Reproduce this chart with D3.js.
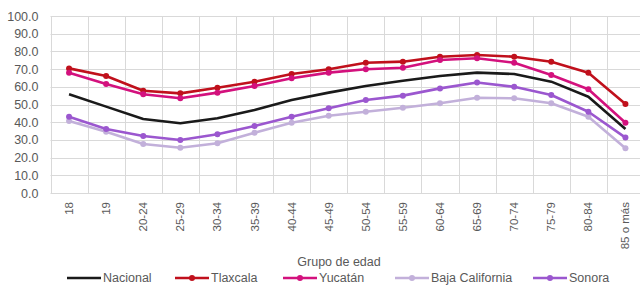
<!DOCTYPE html>
<html>
<head>
<meta charset="utf-8">
<script src="https://cdn.jsdelivr.net/npm/d3@7"></script>
<style>
  body { margin: 0; background: #fff; }
  text { font-family: "Liberation Sans", Arial, sans-serif; fill: #595959; }
</style>
</head>
<body>
<div id="chart"></div>
<script>
// Data
const categories = ['18', '19', '20-24', '25-29', '30-34', '35-39', '40-44', '45-49',
  '50-54', '55-59', '60-64', '65-69', '70-74', '75-79', '80-84', '85 o más'];
const nacional = [55.8, 48.8, 41.8, 39.4, 42.2, 46.9, 52.5, 56.7, 60.5, 63.4, 66.1, 68.0, 67.2, 62.9, 54.4, 36.2];
const tlaxcala = [70.4, 66.1, 57.8, 56.3, 59.5, 62.9, 67.2, 69.9, 73.6, 74.2, 77.0, 78.0, 77.0, 74.2, 68.0, 50.3];
const yucatan = [68.0, 61.6, 55.8, 53.5, 56.7, 60.5, 64.8, 68.0, 69.9, 70.8, 75.1, 76.1, 73.6, 66.7, 58.6, 39.7];
const bajaCalifornia = [40.7, 34.6, 27.7, 25.6, 28.1, 34.1, 39.7, 43.6, 45.9, 48.2, 50.7, 53.8, 53.5, 50.7, 43.1, 25.3];
const sonora = [43.1, 36.2, 32.2, 29.9, 33.2, 37.9, 43.1, 47.9, 52.5, 55.0, 59.1, 62.4, 60.0, 55.4, 45.9, 31.3];
const yTicks = [0, 10, 20, 30, 40, 50, 60, 70, 80, 90, 100];

const series = [
  { name: 'Nacional', values: nacional, color: '#1a1a1a', marker: false },
  { name: 'Tlaxcala', values: tlaxcala, color: '#c0101c', marker: true },
  { name: 'Yucatán', values: yucatan, color: '#d3117d', marker: true },
  { name: 'Baja California', values: bajaCalifornia, color: '#c2b0da', marker: true },
  { name: 'Sonora', values: sonora, color: '#9b57cf', marker: true }
];

// Layout
const width = 640;
const height = 285;
const plotLeft = 50.5, plotRight = 644, plotTop = 16, plotBottom = 193;

const svg = d3.select('#chart')
  .append('svg')
  .attr('width', width)
  .attr('height', height);

const x = d3.scaleBand().domain(categories).range([plotLeft, plotRight]);
const y = d3.scaleLinear().domain([0, 100]).range([plotBottom, plotTop]);
const cx = d => x(d) + x.bandwidth() / 2;

// Grid
const grid = svg.append('g').attr('stroke', '#d9d9d9').attr('stroke-width', 1);
grid.append('g')
  .selectAll('line')
  .data(yTicks)
  .join('line')
  .attr('x1', plotLeft).attr('x2', plotRight)
  .attr('y1', d => Math.round(y(d)) + 0.5).attr('y2', d => Math.round(y(d)) + 0.5);
grid.append('g')
  .selectAll('line')
  .data(categories.concat(['end']))
  .join('line')
  .attr('x1', (d, i) => Math.round(plotLeft + i * x.bandwidth()) + 0.5)
  .attr('x2', (d, i) => Math.round(plotLeft + i * x.bandwidth()) + 0.5)
  .attr('y1', plotTop).attr('y2', plotBottom);

// Y axis
const yAxis = svg.append('g')
  .attr('transform', `translate(${plotLeft},0)`)
  .call(d3.axisLeft(y).tickValues(yTicks).tickFormat(d3.format('.1f')).tickSize(0).tickPadding(12));
yAxis.select('.domain').remove();
yAxis.selectAll('text')
  .style('font-size', '12.5px')
  .attr('fill', '#595959');

// X axis
const xAxis = svg.append('g')
  .attr('transform', `translate(0,${plotBottom})`)
  .call(d3.axisBottom(x).tickSize(0));
xAxis.select('.domain').remove();
xAxis.selectAll('text')
  .style('font-size', '11.5px')
  .attr('fill', '#595959')
  .attr('text-anchor', 'end')
  .attr('transform', 'rotate(-90)')
  .attr('x', -9)
  .attr('y', 0)
  .attr('dy', '0.35em');

// Axis title
svg.append('text')
  .attr('x', 339)
  .attr('y', 266)
  .attr('text-anchor', 'middle')
  .style('font-size', '12.5px')
  .text('Grupo de edad');

// Lines
const line = d3.line()
  .x((d, i) => cx(categories[i]))
  .y(d => y(d));

series.forEach(s => {
  svg.append('path')
    .datum(s.values)
    .attr('fill', 'none')
    .attr('stroke', s.color)
    .attr('stroke-width', 2.6)
    .attr('stroke-linejoin', 'round')
    .attr('d', line);
  if (s.marker) {
    svg.append('g')
      .selectAll('circle')
      .data(s.values)
      .join('circle')
      .attr('cx', (d, i) => cx(categories[i]))
      .attr('cy', d => y(d))
      .attr('r', 3)
      .attr('fill', s.color);
  }
});

// Legend
const legendX = [67, 175, 283, 395, 533];
const legendY = 278;
const legend = svg.append('g')
  .selectAll('g')
  .data(series)
  .join('g')
  .attr('transform', (d, i) => `translate(${legendX[i]},${legendY})`);
legend.append('line')
  .attr('x1', 0).attr('x2', 34)
  .attr('stroke', d => d.color)
  .attr('stroke-width', 2.6);
legend.filter(d => d.marker)
  .append('circle')
  .attr('cx', 17)
  .attr('r', 3)
  .attr('fill', d => d.color);
legend.append('text')
  .attr('x', 36)
  .attr('dy', '0.35em')
  .style('font-size', '12.5px')
  .text(d => d.name);
</script>
</body>
</html>
